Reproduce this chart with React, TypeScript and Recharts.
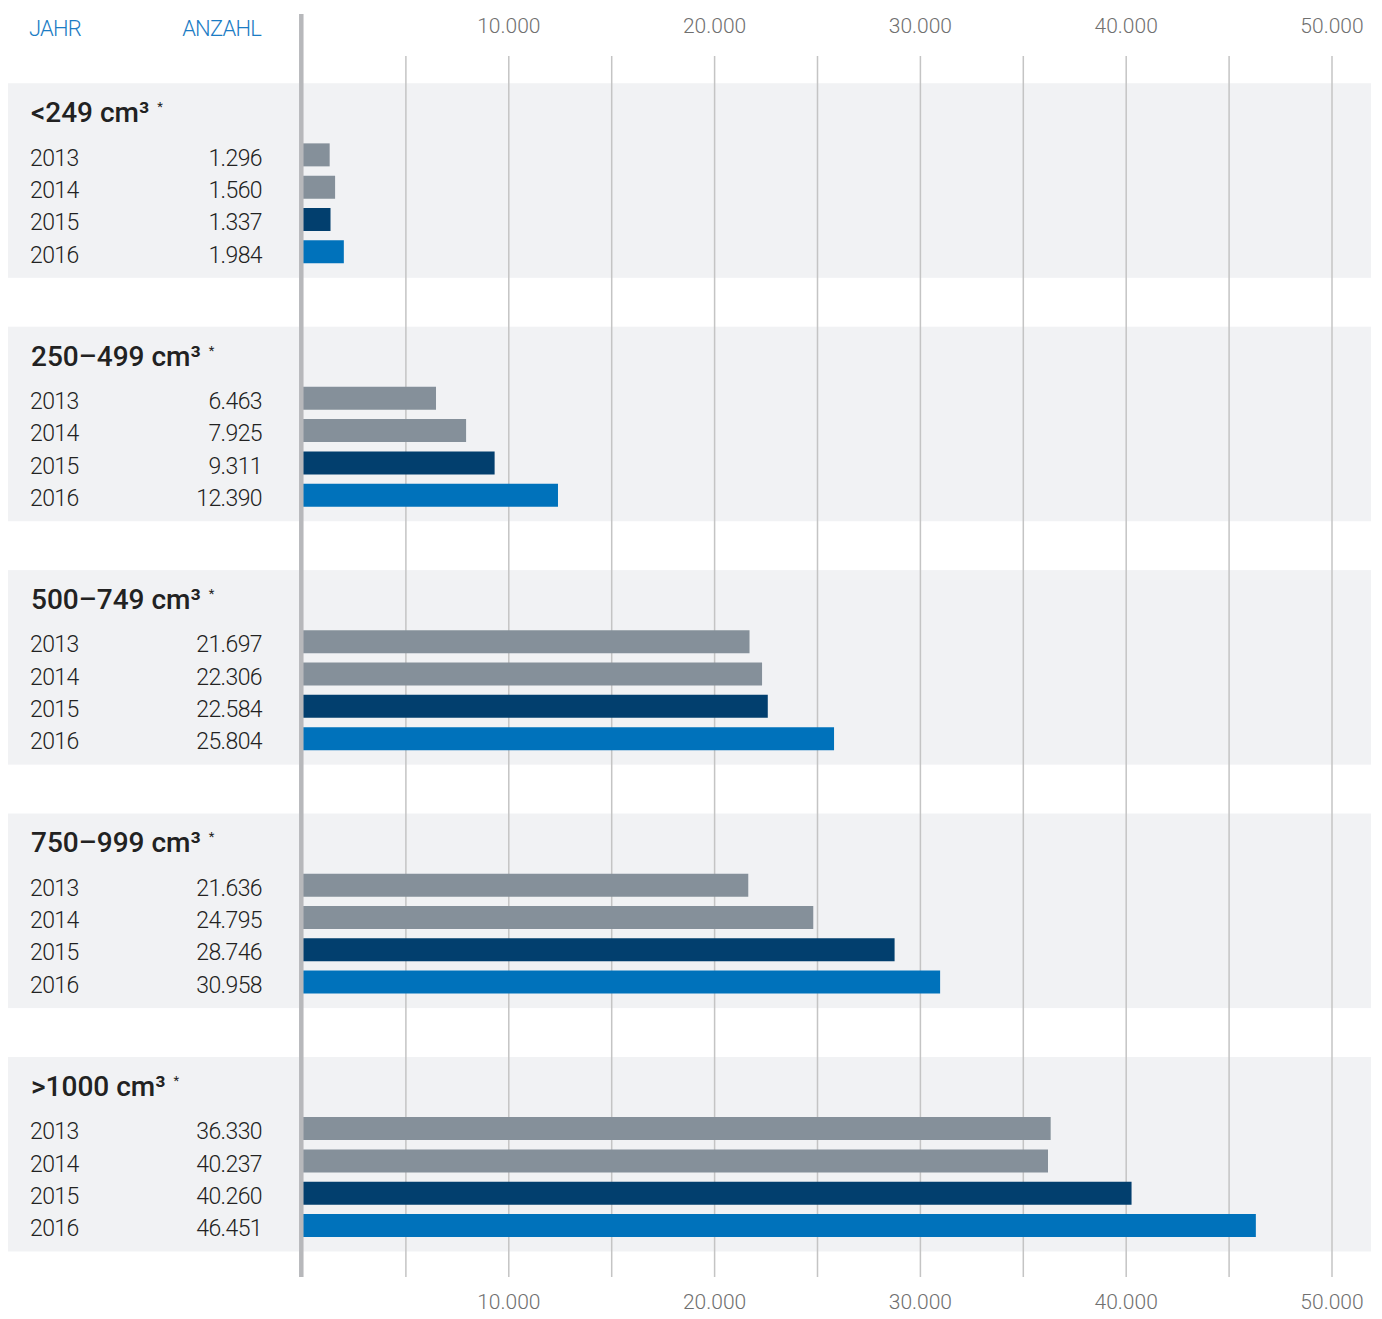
import React from 'react';
import {
  BarChart,
  Bar,
  XAxis,
  YAxis,
  CartesianGrid,
  ReferenceArea,
  ReferenceLine,
  Cell,
  Customized,
} from 'recharts';

// ---- data ----
const GROUPS = ['<249', '250–499', '500–749', '750–999', '>1000'];
const YEARS = ['2013', '2014', '2015', '2016'];
// bar lengths as drawn in the picture
const VALUES_2013 = [1296, 6463, 21697, 21636, 36330];
const VALUES_2014 = [1560, 7925, 22306, 24795, 36200];
const VALUES_2015 = [1337, 9311, 22584, 28746, 40260];
const VALUES_2016 = [1984, 12390, 25804, 30958, 46300];
// printed numbers
const LABELS_2013 = ['1.296', '6.463', '21.697', '21.636', '36.330'];
const LABELS_2014 = ['1.560', '7.925', '22.306', '24.795', '40.237'];
const LABELS_2015 = ['1.337', '9.311', '22.584', '28.746', '40.260'];
const LABELS_2016 = ['1.984', '12.390', '25.804', '30.958', '46.451'];
const X_TICKS = [10000, 20000, 30000, 40000, 50000];
const X_TICK_LABELS = ['10.000', '20.000', '30.000', '40.000', '50.000'];
const GRID_VALUES = [5000, 10000, 15000, 20000, 25000, 30000, 35000, 40000, 45000, 50000];
const YEAR_COLORS = ['#85909a', '#85909a', '#023f6e', '#0072bb'];
const HEADER_LEFT = 'JAHR';
const HEADER_RIGHT = 'ANZAHL';

// ---- layout (row units, one unit = one bar pitch) ----
const Y_MAX = 37.77;
const FIRST_ROW = 3.048;
const GROUP_STEP = 7.53;
const HEADER_OFFSET = -1.31;
const BAND_TOP = -2.205;
const BAND_BOTTOM = 3.813;

const VALUES = [VALUES_2013, VALUES_2014, VALUES_2015, VALUES_2016];
const LABELS = [LABELS_2013, LABELS_2014, LABELS_2015, LABELS_2016];

type Row = { pos: number; value: number; label: string; year: string; color: string };
const rows: Row[] = [];
const headers: { pos: number; name: string; top: number; bottom: number }[] = [];
GROUPS.forEach((name, g) => {
  const first = FIRST_ROW + GROUP_STEP * g;
  headers.push({ pos: first + HEADER_OFFSET, name, top: first + BAND_TOP, bottom: first + BAND_BOTTOM });
  YEARS.forEach((year, i) => {
    rows.push({
      pos: first + i,
      value: VALUES[i][g],
      label: LABELS[i][g],
      year,
      color: YEAR_COLORS[i],
    });
  });
});
const Y_TICKS = [...headers.map((h) => h.pos), ...rows.map((r) => r.pos)];

const FONT = 'Roboto, "Open Sans", sans-serif';
const CHART_W = 1366;
const CHART_H = 1303;

const YTick = (props: any) => {
  const { y, payload } = props;
  const v = payload.value;
  const row = rows.find((r) => Math.abs(r.pos - v) < 0.001);
  if (row) {
    return (
      <g>
        <text x={22} y={y + 11} fontFamily={FONT} fontSize={23} fontWeight={300} fill="#222222" letterSpacing={-0.6}>
          {row.year}
        </text>
        <text x={254} y={y + 11} textAnchor="end" fontFamily={FONT} fontSize={23} fontWeight={300} fill="#222222" letterSpacing={-0.6}>
          {row.label}
        </text>
      </g>
    );
  }
  const h = headers.find((hh) => Math.abs(hh.pos - v) < 0.001);
  if (h) {
    return (
      <text x={23} y={y + 10} fontFamily={FONT} fontSize={28} fontWeight={500} fill="#222222">
        {h.name} cm³
        <tspan fontSize={13} fontWeight={400} dy={-11} dx={8}>*</tspan>
      </text>
    );
  }
  return null;
};

// each value tick is printed above and below the plot
const XTick = (props: any) => {
  const { x, payload } = props;
  const label = X_TICK_LABELS[X_TICKS.indexOf(payload.value)] ?? '';
  const common = {
    x,
    textAnchor: 'middle' as const,
    fontFamily: FONT,
    fontSize: 21,
    fontWeight: 300,
    fill: '#707070',
  };
  return (
    <g>
      <text {...common} y={25}>{label}</text>
      <text {...common} y={1301}>{label}</text>
    </g>
  );
};

const BandShape = (props: any) => {
  const { y, height, x, width } = props;
  return <rect x={0} y={y} width={x + width + 39} height={height} fill="#f1f2f4" />;
};

const AxisLineShape = (props: any) => {
  const { x1, y1, x2, y2 } = props;
  return <line x1={x1 - 1.7} y1={y1} x2={x2 - 1.7} y2={y2} stroke="#b7b8bb" strokeWidth={4.5} />;
};

const ColumnHeaders = () => (
  <g>
    <text x={21} y={28} fontFamily={FONT} fontSize={22} fontWeight={300} fill="#1b7cc4" letterSpacing={-0.8}>
      {HEADER_LEFT}
    </text>
    <text x={253} y={28} textAnchor="end" fontFamily={FONT} fontSize={22} fontWeight={300} fill="#1b7cc4" letterSpacing={-0.8}>
      {HEADER_RIGHT}
    </text>
  </g>
);

export default function App() {
  return (
    <div style={{ width: CHART_W, height: CHART_H }}>
      <style>{'.recharts-surface, .recharts-wrapper { overflow: visible !important; }'}</style>
      <BarChart
        width={CHART_W}
        height={CHART_H}
        data={rows}
        layout="vertical"
        margin={{ top: 48, right: 42, bottom: 0, left: 0 }}
      >
        {headers.map((h) => (
          <ReferenceArea
            key={'band' + h.name}
            y1={h.top}
            y2={h.bottom}
            shape={BandShape}
            zIndex={-200}
            ifOverflow="visible"
          />
        ))}
        <CartesianGrid
          horizontal={false}
          vertical
          verticalValues={GRID_VALUES}
          stroke="#c4c4c4"
          strokeWidth={1.5}
        />
        <XAxis
          orientation="bottom"
          type="number"
          domain={[0, 50000]}
          ticks={X_TICKS}
          height={34}
          axisLine={false}
          tickLine={false}
          interval={0}
          tick={<XTick />}
          allowDataOverflow
        />
        <YAxis
          type="number"
          dataKey="pos"
          domain={[0, Y_MAX]}
          ticks={Y_TICKS}
          interval={0}
          width={295}
          axisLine={false}
          tickLine={false}
          tick={<YTick />}
          allowDataOverflow
        />
        <ReferenceLine
          segment={[
            { x: 0, y: -1.3 },
            { x: 0, y: Y_MAX },
          ]}
          ifOverflow="visible"
          shape={AxisLineShape}
        />
        <Bar dataKey="value" barSize={23} isAnimationActive={false}>
          {rows.map((r, i) => (
            <Cell key={i} fill={r.color} />
          ))}
        </Bar>
        <Customized component={ColumnHeaders} />
      </BarChart>
    </div>
  );
}
